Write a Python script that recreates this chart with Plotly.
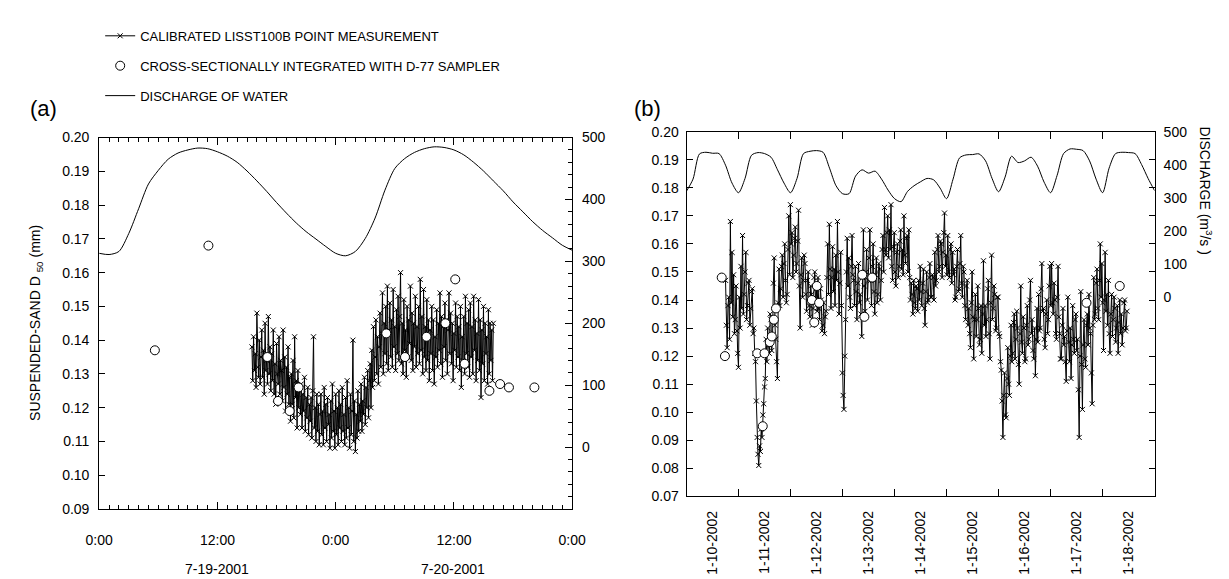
import pandas as pd
import plotly.graph_objects as go

# ---------------- Panel (a): July 19-20, 2001 ----------------
a_lisst_start = "2001-07-19 15:30"
a_lisst_step = "5min"
a_lisst_d50 = [
    0.138, 0.128, 0.141, 0.131, 0.136, 0.126, 0.148, 0.132, 0.129, 0.140, 0.127, 0.135,
    0.143, 0.129, 0.137, 0.124, 0.145, 0.131, 0.134, 0.127, 0.147, 0.130, 0.138, 0.125,
    0.136, 0.128, 0.143, 0.124, 0.133, 0.121, 0.139, 0.130, 0.127, 0.141, 0.124, 0.134,
    0.131, 0.122, 0.143, 0.126, 0.135, 0.119, 0.132, 0.124, 0.138, 0.121, 0.129, 0.116,
    0.130, 0.121, 0.134, 0.117, 0.141, 0.123, 0.128, 0.114, 0.131, 0.120, 0.126, 0.118,
    0.127, 0.114, 0.124, 0.119, 0.129, 0.113, 0.123, 0.117, 0.126, 0.112, 0.121, 0.116,
    0.123, 0.111, 0.125, 0.141, 0.114, 0.120, 0.110, 0.124, 0.113, 0.121, 0.109, 0.118,
    0.124, 0.112, 0.119, 0.109, 0.126, 0.114, 0.121, 0.110, 0.123, 0.115, 0.118, 0.108,
    0.122, 0.111, 0.127, 0.113, 0.119, 0.108, 0.124, 0.112, 0.120, 0.109, 0.125, 0.114,
    0.121, 0.110, 0.126, 0.113, 0.118, 0.109, 0.123, 0.111, 0.128, 0.114, 0.120, 0.108,
    0.124, 0.112, 0.119, 0.140, 0.110, 0.122, 0.107, 0.118, 0.111, 0.125, 0.113, 0.121,
    0.116, 0.127, 0.113, 0.122, 0.118, 0.129, 0.115, 0.126, 0.120, 0.131, 0.117, 0.128,
    0.133, 0.120, 0.137, 0.126, 0.144, 0.128, 0.135, 0.146, 0.130, 0.141, 0.127, 0.138,
    0.148, 0.132, 0.142, 0.154, 0.130, 0.145, 0.136, 0.150, 0.133, 0.156, 0.131, 0.143,
    0.151, 0.135, 0.146, 0.132, 0.155, 0.138, 0.144, 0.131, 0.149, 0.136, 0.153, 0.134,
    0.147, 0.160, 0.133, 0.145, 0.130, 0.152, 0.137, 0.143, 0.129, 0.150, 0.135, 0.146,
    0.139, 0.156, 0.134, 0.148, 0.131, 0.145, 0.138, 0.153, 0.132, 0.144, 0.136, 0.150,
    0.133, 0.158, 0.137, 0.147, 0.130, 0.155, 0.135, 0.144, 0.131, 0.152, 0.134, 0.146,
    0.128, 0.143, 0.136, 0.150, 0.131, 0.146, 0.127, 0.141, 0.135, 0.149, 0.132, 0.145,
    0.137, 0.154, 0.133, 0.147, 0.129, 0.144, 0.138, 0.151, 0.134, 0.146, 0.130, 0.143,
    0.154, 0.136, 0.148, 0.133, 0.145, 0.128, 0.142, 0.137, 0.151, 0.132, 0.147, 0.135,
    0.144, 0.131, 0.150, 0.126, 0.141, 0.134, 0.147, 0.130, 0.153, 0.136, 0.145, 0.132,
    0.149, 0.129, 0.151, 0.135, 0.144, 0.130, 0.153, 0.137, 0.146, 0.128, 0.142, 0.134,
    0.152, 0.131, 0.146, 0.123, 0.143, 0.133, 0.150, 0.128, 0.145, 0.136, 0.141, 0.127,
    0.149, 0.130, 0.145, 0.134, 0.143, 0.128, 0.145,
]

a_d77_time = [
    "2001-07-19 05:39", "2001-07-19 11:05", "2001-07-19 17:04", "2001-07-19 18:09",
    "2001-07-19 19:20", "2001-07-19 20:14", "2001-07-20 05:08", "2001-07-20 07:02",
    "2001-07-20 09:13", "2001-07-20 11:08", "2001-07-20 12:08", "2001-07-20 13:05",
    "2001-07-20 15:36", "2001-07-20 16:41", "2001-07-20 17:35", "2001-07-20 20:10",
]
a_d77_d50 = [0.137, 0.168, 0.135, 0.122, 0.119, 0.126, 0.142, 0.135,
             0.141, 0.145, 0.158, 0.133, 0.125, 0.127, 0.126, 0.126]

a_q_start = "2001-07-19 00:00"
a_q_step = "1h"
a_discharge = [
    313, 311, 316, 345, 385, 425, 447, 465, 475, 480, 483, 482, 477,
    470, 460, 446, 430, 413, 395, 378, 362, 348, 336, 324, 313,
    309, 316, 337, 370, 415, 450, 466, 476, 482, 485, 484, 480,
    472, 460, 446, 430, 414, 396, 380, 364, 350, 338, 326, 318,
]

# ---------------- Panel (b): January 10-18, 2002 ----------------
b_lisst_start = "2002-01-10 18:00"
b_lisst_end = "2002-01-18 11:17"
b_lisst_d50 = [
    0.147, 0.131, 0.123, 0.138, 0.141, 0.126, 0.168, 0.139, 0.157, 0.134, 0.149, 0.128, 0.133, 0.145, 0.129, 0.121, 0.116,
    0.141, 0.130, 0.152, 0.137, 0.163, 0.135, 0.142, 0.150, 0.157, 0.133, 0.138, 0.146, 0.147, 0.131, 0.137, 0.143,
    0.144, 0.128, 0.130, 0.121, 0.118, 0.104, 0.091, 0.085, 0.081, 0.088, 0.086, 0.094, 0.091, 0.099, 0.103, 0.109, 0.112,
    0.126, 0.118, 0.130, 0.124, 0.121, 0.135, 0.133, 0.122, 0.127, 0.146, 0.155, 0.131, 0.126, 0.118, 0.112, 0.139,
    0.151, 0.138, 0.144, 0.152, 0.156, 0.141, 0.153, 0.160, 0.147, 0.139, 0.142, 0.158, 0.170, 0.149, 0.174, 0.160,
    0.164, 0.148, 0.156, 0.162, 0.166, 0.150, 0.153, 0.161, 0.172, 0.145, 0.130, 0.149, 0.155, 0.141, 0.147, 0.156,
    0.153, 0.142, 0.136, 0.147, 0.150, 0.138, 0.134, 0.145, 0.142, 0.131, 0.137, 0.148, 0.150, 0.139, 0.144, 0.136,
    0.148, 0.137, 0.133, 0.144, 0.140, 0.129, 0.131, 0.139, 0.128, 0.134, 0.136, 0.148, 0.160, 0.142, 0.167, 0.151,
    0.137, 0.148, 0.159, 0.143, 0.151, 0.138, 0.156, 0.147, 0.168, 0.150, 0.135, 0.146, 0.157, 0.138, 0.114, 0.106,
    0.101, 0.120, 0.133, 0.150, 0.162, 0.145, 0.155, 0.141, 0.137, 0.152, 0.163, 0.149, 0.147, 0.138, 0.152, 0.143,
    0.133, 0.146, 0.153, 0.139, 0.142, 0.135, 0.127, 0.148, 0.165, 0.145, 0.136, 0.150, 0.158, 0.140, 0.147, 0.155,
    0.165, 0.147, 0.138, 0.152, 0.160, 0.143, 0.135, 0.149, 0.155, 0.139, 0.142, 0.153, 0.151, 0.140, 0.147, 0.158,
    0.163, 0.150, 0.173, 0.158, 0.156, 0.164, 0.170, 0.155, 0.165, 0.158, 0.174, 0.152, 0.147, 0.159, 0.164, 0.150,
    0.145, 0.157, 0.160, 0.148, 0.152, 0.161, 0.165, 0.151, 0.158, 0.149, 0.170, 0.156, 0.153, 0.162, 0.163, 0.150,
    0.165, 0.148, 0.140, 0.146, 0.142, 0.135, 0.147, 0.139, 0.137, 0.145, 0.144, 0.136, 0.147, 0.140, 0.152, 0.143,
    0.138, 0.146, 0.151, 0.137, 0.131, 0.143, 0.150, 0.139, 0.140, 0.148, 0.153, 0.141, 0.141, 0.149, 0.148, 0.140,
    0.157, 0.145, 0.147, 0.158, 0.163, 0.150, 0.152, 0.161, 0.160, 0.148, 0.157, 0.164, 0.171, 0.152, 0.156, 0.149,
    0.163, 0.150, 0.148, 0.158, 0.160, 0.146, 0.157, 0.149, 0.151, 0.140, 0.141, 0.152, 0.158, 0.143, 0.144, 0.153,
    0.163, 0.146, 0.141, 0.152, 0.150, 0.138, 0.133, 0.145, 0.147, 0.131, 0.137, 0.128, 0.123, 0.139, 0.150, 0.134,
    0.119, 0.133, 0.142, 0.127, 0.133, 0.145, 0.137, 0.124, 0.126, 0.138, 0.121, 0.135, 0.154, 0.131, 0.138, 0.127,
    0.133, 0.144, 0.147, 0.128, 0.119, 0.139, 0.156, 0.133, 0.137, 0.145, 0.142, 0.129, 0.130, 0.141, 0.141, 0.128,
    0.127, 0.118, 0.115, 0.104, 0.091, 0.106, 0.114, 0.099, 0.098, 0.112, 0.123, 0.110, 0.106, 0.120, 0.131, 0.118,
    0.121, 0.132, 0.135, 0.119, 0.126, 0.136, 0.130, 0.117, 0.110, 0.128, 0.145, 0.125, 0.121, 0.134, 0.130, 0.118,
    0.119, 0.131, 0.138, 0.124, 0.126, 0.140, 0.147, 0.128, 0.133, 0.122, 0.119, 0.130, 0.113, 0.126, 0.137, 0.125,
    0.142, 0.129, 0.130, 0.144, 0.153, 0.136, 0.137, 0.126, 0.123, 0.135, 0.140, 0.128, 0.133, 0.145, 0.152, 0.138,
    0.153, 0.139, 0.135, 0.146, 0.140, 0.128, 0.126, 0.141, 0.152, 0.134, 0.128, 0.119, 0.119, 0.131, 0.137, 0.124,
    0.127, 0.118, 0.111, 0.129, 0.141, 0.125, 0.118, 0.130, 0.112, 0.124, 0.138, 0.126, 0.121, 0.133, 0.135, 0.122,
    0.126, 0.108, 0.091, 0.120, 0.143, 0.117, 0.101, 0.124, 0.133, 0.119, 0.116, 0.131, 0.135, 0.124, 0.142, 0.130,
    0.128, 0.114, 0.103, 0.131, 0.148, 0.133, 0.135, 0.146, 0.151, 0.137, 0.133, 0.147, 0.160, 0.141, 0.153, 0.139,
    0.122, 0.140, 0.157, 0.136, 0.142, 0.131, 0.147, 0.128, 0.121, 0.135, 0.142, 0.127, 0.133, 0.141, 0.137, 0.125,
    0.130, 0.138, 0.121, 0.132, 0.140, 0.128, 0.135, 0.124, 0.130, 0.139, 0.140, 0.129, 0.130, 0.136,
]

b_d77_time = [
    "2002-01-10 16:15", "2002-01-10 17:44", "2002-01-11 08:38", "2002-01-11 11:11",
    "2002-01-11 12:00", "2002-01-11 14:24", "2002-01-11 15:22", "2002-01-11 16:19",
    "2002-01-11 17:17", "2002-01-12 09:50", "2002-01-12 10:57", "2002-01-12 12:09",
    "2002-01-12 13:12", "2002-01-13 09:07", "2002-01-13 10:05", "2002-01-13 13:41",
    "2002-01-17 16:34", "2002-01-18 07:55",
]
b_d77_d50 = [0.148, 0.120, 0.121, 0.095, 0.121, 0.125, 0.127, 0.133, 0.137,
             0.140, 0.132, 0.145, 0.139, 0.149, 0.134, 0.148, 0.139, 0.145]

b_q_start = "2002-01-10 00:00"
b_q_step = "3h"
b_discharge = [
    321, 357, 433, 438, 435, 434, 399, 345,
    316, 359, 429, 437, 434, 423, 385, 345,
    316, 359, 434, 441, 443, 438, 390, 337,
    313, 313, 366, 385, 375, 381, 357, 324,
    298, 289, 320, 337, 349, 359, 355, 330,
    298, 357, 421, 430, 431, 433, 412, 359,
    319, 363, 426, 407, 412, 423, 396, 348,
    316, 368, 434, 448, 447, 443, 412, 357,
    316, 390, 434, 438, 437, 434, 401, 359,
    322,
]

a_xtick_vals = ["2001-07-19 00:00", "2001-07-19 12:00", "2001-07-20 00:00",
                "2001-07-20 12:00", "2001-07-21 00:00"]
a_xtick_text = ["0:00", "12:00", "0:00", "12:00", "0:00"]
a_date_labels = ["7-19-2001", "7-20-2001"]
b_days = ["2002-01-%02d" % d for d in range(10, 19)]
b_xtick_text = ["1-%d-2002" % d for d in range(10, 19)]

# ---------------- build ----------------
a_lisst_t = pd.date_range(a_lisst_start, periods=len(a_lisst_d50), freq=a_lisst_step)
a_q_t = pd.date_range(a_q_start, periods=len(a_discharge), freq=a_q_step)
b_lisst_t = pd.date_range(b_lisst_start, b_lisst_end, periods=len(b_lisst_d50))
b_q_t = pd.date_range(b_q_start, periods=len(b_discharge), freq=b_q_step)

FONT = "Liberation Sans, Arial, sans-serif"
BLACK = "black"

lisst_style = dict(mode="lines+markers", line=dict(color=BLACK, width=1),
                   marker=dict(symbol="x-thin", size=5, color=BLACK,
                               line=dict(width=1, color=BLACK)))
d77_style = dict(mode="markers",
                 marker=dict(symbol="circle", size=9, color="white",
                             line=dict(width=1, color=BLACK)))
q_style = dict(mode="lines", line=dict(color=BLACK, width=1, shape="spline", smoothing=0.8))

fig = go.Figure()
fig.add_trace(go.Scatter(x=a_lisst_t, y=a_lisst_d50, xaxis="x", yaxis="y",
                         name="CALIBRATED LISST100B POINT MEASUREMENT",
                         legendgroup="g1", legendrank=1, **lisst_style))
fig.add_trace(go.Scatter(x=pd.to_datetime(a_d77_time), y=a_d77_d50, xaxis="x", yaxis="y",
                         name="CROSS-SECTIONALLY INTEGRATED WITH D-77 SAMPLER",
                         legendgroup="g2", legendrank=2, **d77_style))
fig.add_trace(go.Scatter(x=a_q_t, y=a_discharge, xaxis="x", yaxis="y2",
                         name="DISCHARGE OF WATER", legendgroup="g3", legendrank=3,
                         **q_style))
fig.add_trace(go.Scatter(x=b_lisst_t, y=b_lisst_d50, xaxis="x2", yaxis="y3",
                         showlegend=False, **lisst_style))
fig.add_trace(go.Scatter(x=pd.to_datetime(b_d77_time), y=b_d77_d50, xaxis="x2", yaxis="y3",
                         showlegend=False, **d77_style))
fig.add_trace(go.Scatter(x=b_q_t, y=b_discharge, xaxis="x2", yaxis="y4",
                         showlegend=False, **q_style))

W, H = 1229, 579
def px_x(p):
    return p / W
def px_y(p):
    return 1 - p / H

def axis_style(size=14, line=True):
    return dict(showline=line, linecolor=BLACK, linewidth=1, showgrid=False,
                zeroline=False, tickcolor=BLACK, tickwidth=1,
                tickfont=dict(family=FONT, size=size, color=BLACK))

fig.update_layout(
    width=W, height=H, margin=dict(l=0, r=0, t=0, b=0),
    paper_bgcolor="white", plot_bgcolor="white",
    font=dict(family=FONT, color=BLACK),
    showlegend=True,
    legend=dict(x=px_x(80), y=px_y(5), xanchor="left", yanchor="top",
                bgcolor="rgba(0,0,0,0)", font=dict(family=FONT, size=13, color=BLACK),
                tracegroupgap=10, itemwidth=30),
    xaxis=dict(domain=[px_x(79), px_x(563)], anchor="y", type="date",
               range=["2001-07-19 00:00", "2001-07-21 00:00"],
               tickvals=a_xtick_vals, ticktext=a_xtick_text,
               ticks="inside", ticklen=7, mirror="ticks", ticklabelstandoff=18,
               minor=dict(ticks="inside", ticklen=4, dtick=3600000,
                          tick0="2001-07-19", tickcolor=BLACK, showgrid=False),
               **axis_style()),
    yaxis=dict(domain=[px_y(507), px_y(125)], anchor="x", range=[0.09, 0.20],
               tick0=0.09, dtick=0.01, tickformat=".2f", ticks="inside", ticklen=6,
               mirror=True, ticklabelstandoff=6, **axis_style()),
    yaxis2=dict(overlaying="y", side="right", anchor="x", range=[-100, 500],
                tickvals=[0, 100, 200, 300, 400, 500], ticks="inside", ticklen=7,
                ticklabelstandoff=6,
                minor=dict(ticks="inside", ticklen=4, dtick=20, tick0=0,
                           tickcolor=BLACK, showgrid=False),
                **axis_style()),
    xaxis2=dict(domain=[px_x(680), px_x(1159)], anchor="y3", type="date",
                range=["2002-01-10 00:00", "2002-01-19 00:00"],
                tickvals=[d + " 12:00" for d in b_days], ticktext=b_xtick_text,
                tickangle=-90, ticks="inside", ticklen=0, mirror="ticks",
                ticklabelstandoff=8,
                minor=dict(ticks="inside", ticklen=7, dtick=86400000,
                           tick0="2002-01-10", tickcolor=BLACK, showgrid=False),
                **axis_style(14)),
    yaxis3=dict(domain=[px_y(494), px_y(119)], anchor="x2", range=[0.07, 0.20],
                tick0=0.07, dtick=0.01, tickformat=".2f", ticks="inside", ticklen=6,
                mirror="ticks", ticklabelstandoff=4, **axis_style()),
    yaxis4=dict(overlaying="y3", side="right", anchor="x2", range=[-600, 500],
                tickvals=[0, 100, 200, 300, 400, 500], ticks="",
                ticklabelstandoff=8, **axis_style(line=False)),
)

ann_font = dict(family=FONT, color=BLACK)
annotations = [
    dict(text="(a)", x=px_x(22), y=px_y(95), font=dict(size=22, **ann_font)),
    dict(text="(b)", x=px_x(640), y=px_y(95), font=dict(size=22, **ann_font)),
    dict(text="SUSPENDED-SAND D <sub>50</sub> (mm)", textangle=-90,
         x=px_x(15), y=px_y(316), font=dict(size=14, **ann_font)),
    dict(text="DISCHARGE (m<sup>3</sup>/s )", textangle=90,
         x=px_x(1212), y=px_y(112), yanchor="top", font=dict(size=14, **ann_font)),
    dict(text=a_date_labels[0], x=px_x(200), y=px_y(569), font=dict(size=14, **ann_font)),
    dict(text=a_date_labels[1], x=px_x(441), y=px_y(569), font=dict(size=14, **ann_font)),
]
for a in annotations:
    a.setdefault("xanchor", "center")
    a.setdefault("yanchor", "middle")
    a.update(xref="paper", yref="paper", showarrow=False)
fig.update_layout(annotations=annotations)

fig.write_html("out.html")
